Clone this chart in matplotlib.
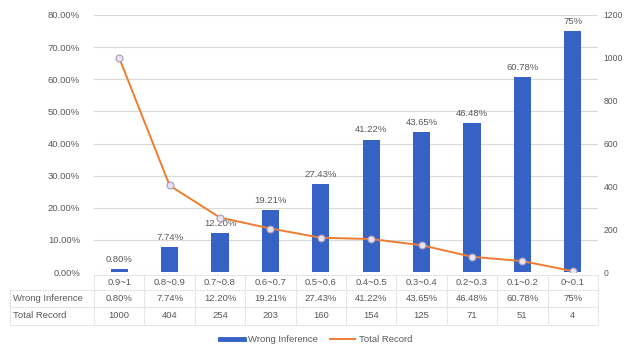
import matplotlib
matplotlib.use("Agg")
import matplotlib.pyplot as plt
from matplotlib.lines import Line2D
from matplotlib.transforms import blended_transform_factory
import numpy as np

categories = ["0.9~1", "0.8~0.9", "0.7~0.8", "0.6~0.7", "0.5~0.6",
              "0.4~0.5", "0.3~0.4", "0.2~0.3", "0.1~0.2", "0~0.1"]
wrong_inference = [0.80, 7.74, 12.20, 19.21, 27.43, 41.22, 43.65, 46.48, 60.78, 75.0]
total_record = [1000, 404, 254, 203, 160, 154, 125, 71, 51, 4]
left_ticks = [0, 10, 20, 30, 40, 50, 60, 70, 80]
right_ticks = [0, 200, 400, 600, 800, 1000, 1200]

series_names = ["Wrong Inference", "Total Record"]


def pct_label(v):
    return f"{int(v)}%" if float(v).is_integer() and v >= 10 else f"{v:.2f}%"


wrong_labels = [pct_label(v) for v in wrong_inference]

plt.rcParams["font.family"] = ["Liberation Sans", "DejaVu Sans"]
TXT = "#595959"
GRID = "#d9d9d9"
BLUE = "#3562c4"
ORANGE = "#ed7d31"
FS = 6.8

W, H = 625, 349
fig = plt.figure(figsize=(W / 100, H / 100), dpi=100)
ax = fig.add_axes([94 / W, 1 - 272 / H, (598 - 94) / W, (272 - 15) / H])
x = np.arange(len(categories))

ax.bar(x, wrong_inference, width=0.34, color=BLUE, zorder=2)
ax.set_xlim(-0.5, len(categories) - 0.5)
ax.set_ylim(0, 80)
ax.set_yticks(left_ticks)
ax.set_yticklabels([f"{t:.2f}%" for t in left_ticks])
ax.yaxis.grid(True, color=GRID, linewidth=0.8, zorder=0)
ax.set_axisbelow(True)
ax.tick_params(axis="y", length=0, pad=10, labelsize=FS, labelcolor=TXT)
ax.set_xticks([])
for s in ax.spines.values():
    s.set_visible(False)

for xi, v, lab in zip(x, wrong_inference, wrong_labels):
    ax.text(xi, v + 1.6, lab, ha="center", va="bottom", fontsize=FS, color=TXT, zorder=3)

ax2 = ax.twinx()
ax2.set_ylim(0, 1200)
ax2.set_yticks(right_ticks)
ax2.tick_params(axis="y", length=0, pad=4, labelsize=6.2, labelcolor=TXT)
for s in ax2.spines.values():
    s.set_visible(False)
ax2.plot(x, total_record, color=ORANGE, linewidth=1.4, marker="o", markersize=5,
         markerfacecolor="#e6e4f2", markeredgecolor="#a99bb8", markeredgewidth=0.8, zorder=4)

# data table under the plot
tr = blended_transform_factory(ax.transData, fig.transFigure)
def fy(py):
    return 1 - py / H

x_left = -0.5 - (94 - 10) / 50.4
x_right = len(categories) - 0.5
row_tops = [275, 290, 307, 325]
dash = (0, (2, 1))
for i, py in enumerate(row_tops):
    x0 = -0.5 if i == 0 else x_left
    fig.add_artist(Line2D([x0, x_right], [fy(py), fy(py)], transform=tr,
                          color=GRID, linewidth=0.7, linestyle=dash))
for b in np.arange(-0.5, len(categories)):
    fig.add_artist(Line2D([b, b], [fy(275), fy(325)], transform=tr,
                          color=GRID, linewidth=0.7, linestyle=dash))
fig.add_artist(Line2D([x_left, x_left], [fy(290), fy(325)], transform=tr,
                      color=GRID, linewidth=0.7, linestyle=dash))

for xi, c, w, t in zip(x, categories, wrong_labels, total_record):
    fig.text(xi, fy(282.5), c, transform=tr, ha="center", va="center", fontsize=FS, color=TXT)
    fig.text(xi, fy(298.5), w, transform=tr, ha="center", va="center", fontsize=FS, color=TXT)
    fig.text(xi, fy(316), str(t), transform=tr, ha="center", va="center", fontsize=FS, color=TXT)
fig.text(x_left + 0.06, fy(298.5), series_names[0], transform=tr, ha="left", va="center",
         fontsize=FS, color=TXT)
fig.text(x_left + 0.06, fy(316), series_names[1], transform=tr, ha="left", va="center",
         fontsize=FS, color=TXT)

# legend
handles = [Line2D([], [], color=BLUE, linewidth=3.5),
           Line2D([], [], color=ORANGE, linewidth=1.4)]
fig.legend(handles, series_names, loc="center", bbox_to_anchor=(316 / W, fy(340)),
           ncol=2, frameon=False, fontsize=FS, labelcolor=TXT, handlelength=2.6,
           columnspacing=1.3, handletextpad=0.4)

fig.savefig("out.png", dpi=100, facecolor="white")
